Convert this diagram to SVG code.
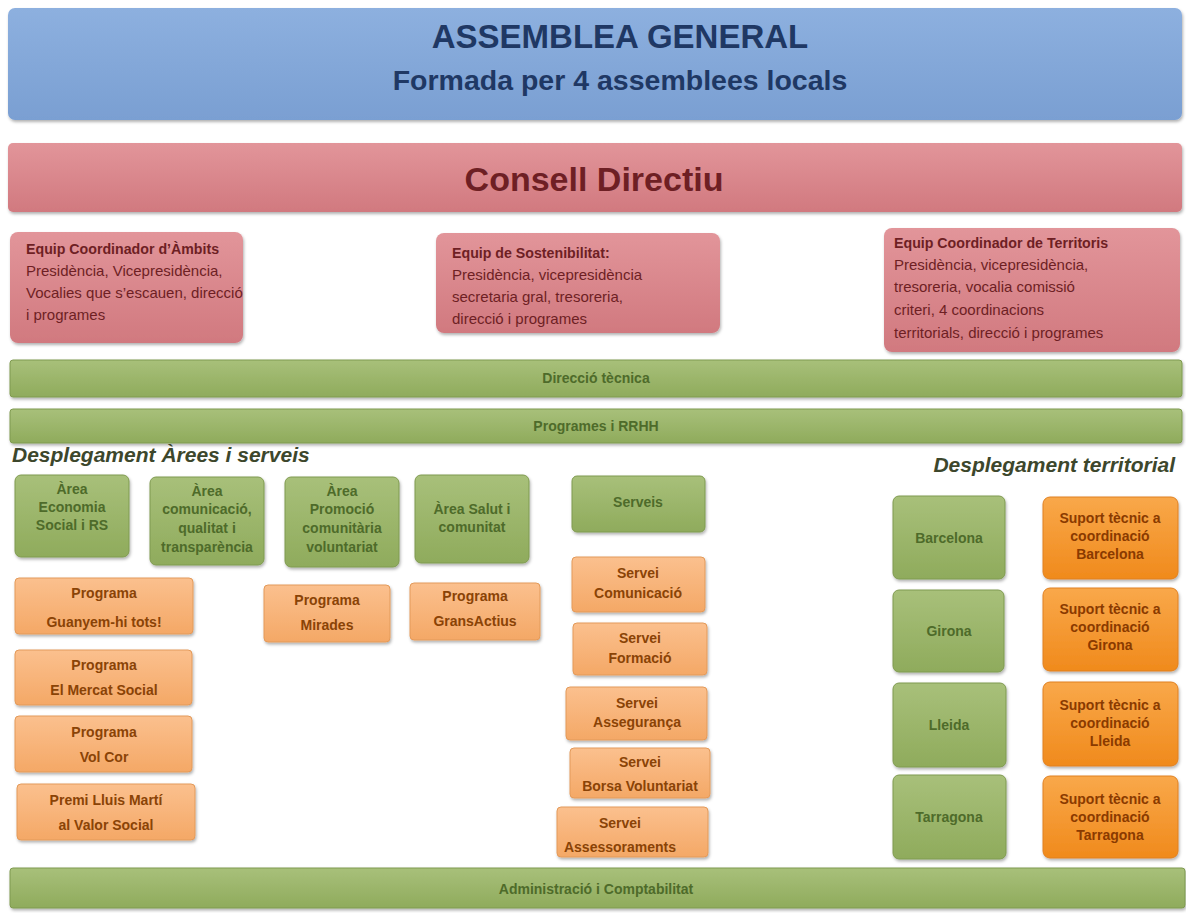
<svg xmlns="http://www.w3.org/2000/svg" width="1186" height="913" viewBox="0 0 1186 913">
<defs>
<linearGradient id="gBlue" x1="0" y1="0" x2="0" y2="1"><stop offset="0" stop-color="#8db0df"/><stop offset="1" stop-color="#7a9fd2"/></linearGradient>
<linearGradient id="gRed" x1="0" y1="0" x2="0" y2="1"><stop offset="0" stop-color="#e2959a"/><stop offset="1" stop-color="#d1797f"/></linearGradient>
<linearGradient id="gGreen" x1="0" y1="0" x2="0" y2="1"><stop offset="0" stop-color="#a8c07a"/><stop offset="1" stop-color="#8fab5c"/></linearGradient>
<linearGradient id="gOrange" x1="0" y1="0" x2="0" y2="1"><stop offset="0" stop-color="#fbc08e"/><stop offset="1" stop-color="#f4a866"/></linearGradient>
<linearGradient id="gOrange2" x1="0" y1="0" x2="0" y2="1"><stop offset="0" stop-color="#f9a84a"/><stop offset="1" stop-color="#f08a1c"/></linearGradient>
<filter id="sh" x="-10%" y="-10%" width="125%" height="130%"><feDropShadow dx="1" dy="2" stdDeviation="1.5" flood-color="#000" flood-opacity="0.3"/></filter>
</defs>
<style>
.box{filter:url(#sh)}
.blue{fill:url(#gBlue)}
.red{fill:url(#gRed)}
.green{fill:url(#gGreen);stroke:#7f9a50;stroke-width:1}
.or{fill:url(#gOrange);stroke:#e39a5a;stroke-width:1}
.or2{fill:url(#gOrange2);stroke:#e08020;stroke-width:1}
text{font-family:"Liberation Sans",Arial,sans-serif}
.h1{font-size:33px;font-weight:bold;fill:#1f3864;text-anchor:middle}
.h2{font-size:28.5px;font-weight:bold;fill:#1f3864;text-anchor:middle}
.cd{font-size:34px;font-weight:bold;fill:#6e1f24;text-anchor:middle}
.rt{font-size:15px;fill:#6e1f24}
.rb{font-weight:bold;font-size:14.2px}
.gt{font-size:14px;font-weight:bold;fill:#4e6b2a;text-anchor:middle}
.ot{font-size:14px;font-weight:bold;fill:#8a4306;text-anchor:middle}
.ot2{font-size:14px;font-weight:bold;fill:#8a3a00;text-anchor:middle}
.sec{font-size:21px;font-weight:bold;font-style:italic;fill:#3d472c}
</style>
<rect width="1186" height="913" fill="#ffffff"/>
<g id="connectors"/>

<g id="assemblea"><rect class="box blue" x="8" y="8" width="1174" height="112" rx="7"/>
<text class="h1" x="620" y="48">ASSEMBLEA GENERAL</text>
<text class="h2" x="620" y="90">Formada per 4 assemblees locals</text></g>

<g id="consell"><rect class="box red" x="8" y="143" width="1174" height="69" rx="5"/>
<text class="cd" x="594" y="191">Consell Directiu</text></g>

<g id="equip-ambits"><rect class="box red" x="10" y="232" width="233" height="111" rx="8"/>
<text class="rt" x="26"><tspan x="26" y="254" class="rb">Equip Coordinador d’Àmbits</tspan><tspan x="26" y="276">Presidència, Vicepresidència,</tspan><tspan x="26" y="298">Vocalies que s’escauen, direcció</tspan><tspan x="26" y="320">i programes</tspan></text></g>

<g id="equip-sostenibilitat"><rect class="box red" x="436" y="233" width="284" height="100" rx="8"/>
<text class="rt" x="452"><tspan x="452" y="258" class="rb">Equip de Sostenibilitat:</tspan><tspan x="452" y="280">Presidència, vicepresidència</tspan><tspan x="452" y="302">secretaria gral, tresoreria,</tspan><tspan x="452" y="324">direcció i programes</tspan></text></g>

<g id="equip-territoris"><rect class="box red" x="884" y="228" width="296" height="124" rx="8"/>
<text class="rt" x="894"><tspan x="894" y="248" class="rb">Equip Coordinador de Territoris</tspan><tspan x="894" y="270">Presidència, vicepresidència,</tspan><tspan x="894" y="292">tresoreria, vocalia comissió</tspan><tspan x="894" y="315">criteri, 4 coordinacions</tspan><tspan x="894" y="338">territorials, direcció i programes</tspan></text></g>

<g id="direccio"><rect class="box green" x="10" y="360" width="1172" height="37" rx="3"/>
<text class="gt" x="596" y="383">Direcció tècnica</text></g>

<g id="programes-rrhh"><rect class="box green" x="10" y="409" width="1172" height="34" rx="3"/>
<text class="gt" x="596" y="431">Programes i RRHH</text></g>

<text class="sec" x="12" y="462">Desplegament Àrees i serveis</text>
<text class="sec" x="1175" y="472" text-anchor="end">Desplegament territorial</text>

<g id="area-economia"><rect class="box green" x="15" y="475" width="114" height="82" rx="6"/>
<text class="gt"><tspan x="72" y="494">Àrea</tspan><tspan x="72" y="512">Economia</tspan><tspan x="72" y="530">Social i RS</tspan></text></g>

<g id="area-comunicacio"><rect class="box green" x="150" y="477" width="114" height="88" rx="6"/>
<text class="gt"><tspan x="207" y="496">Àrea</tspan><tspan x="207" y="514">comunicació,</tspan><tspan x="207" y="533">qualitat i</tspan><tspan x="207" y="552">transparència</tspan></text></g>

<g id="area-promocio"><rect class="box green" x="285" y="477" width="114" height="90" rx="6"/>
<text class="gt"><tspan x="342" y="496">Àrea</tspan><tspan x="342" y="514">Promoció</tspan><tspan x="342" y="533">comunitària</tspan><tspan x="342" y="552">voluntariat</tspan></text></g>

<g id="area-salut"><rect class="box green" x="415" y="475" width="114" height="88" rx="6"/>
<text class="gt"><tspan x="472" y="514">Àrea Salut i</tspan><tspan x="472" y="532">comunitat</tspan></text></g>

<g id="serveis"><rect class="box green" x="572" y="476" width="133" height="56" rx="5"/>
<text class="gt" x="638" y="507">Serveis</text></g>

<g id="prog-guanyem"><rect class="box or" x="15" y="578" width="178" height="56" rx="4"/>
<text class="ot"><tspan x="104" y="598">Programa</tspan><tspan x="104" y="627">Guanyem-hi tots!</tspan></text></g>

<g id="prog-mercat"><rect class="box or" x="15" y="650" width="177" height="55" rx="4"/>
<text class="ot"><tspan x="104" y="670">Programa</tspan><tspan x="104" y="695">El Mercat Social</tspan></text></g>

<g id="prog-volcor"><rect class="box or" x="15" y="716" width="177" height="56" rx="4"/>
<text class="ot"><tspan x="104" y="737">Programa</tspan><tspan x="104" y="762">Vol Cor</tspan></text></g>

<g id="premi"><rect class="box or" x="17" y="784" width="178" height="56" rx="4"/>
<text class="ot"><tspan x="106" y="805">Premi Lluis Martí</tspan><tspan x="106" y="830">al Valor Social</tspan></text></g>

<g id="prog-mirades"><rect class="box or" x="264" y="585" width="126" height="57" rx="4"/>
<text class="ot"><tspan x="327" y="605">Programa</tspan><tspan x="327" y="630">Mirades</tspan></text></g>

<g id="prog-gransactius"><rect class="box or" x="410" y="583" width="130" height="57" rx="4"/>
<text class="ot"><tspan x="475" y="601">Programa</tspan><tspan x="475" y="626">GransActius</tspan></text></g>

<g id="servei-comunicacio"><rect class="box or" x="572" y="557" width="133" height="55" rx="4"/>
<text class="ot"><tspan x="638" y="578">Servei</tspan><tspan x="638" y="598">Comunicació</tspan></text></g>

<g id="servei-formacio"><rect class="box or" x="573" y="623" width="134" height="52" rx="4"/>
<text class="ot"><tspan x="640" y="643">Servei</tspan><tspan x="640" y="663">Formació</tspan></text></g>

<g id="servei-asseguranca"><rect class="box or" x="566" y="687" width="141" height="53" rx="4"/>
<text class="ot"><tspan x="637" y="708">Servei</tspan><tspan x="637" y="727">Assegurança</tspan></text></g>

<g id="servei-borsa"><rect class="box or" x="570" y="748" width="140" height="50" rx="4"/>
<text class="ot"><tspan x="640" y="767">Servei</tspan><tspan x="640" y="791">Borsa Voluntariat</tspan></text></g>

<g id="servei-assessoraments"><rect class="box or" x="557" y="807" width="151" height="50" rx="4"/>
<text class="ot"><tspan x="620" y="828">Servei</tspan><tspan x="620" y="852">Assessoraments</tspan></text></g>

<g id="barcelona"><rect class="box green" x="893" y="496" width="112" height="83" rx="6"/>
<text class="gt" x="949" y="543">Barcelona</text></g>
<g id="girona"><rect class="box green" x="893" y="590" width="111" height="82" rx="6"/>
<text class="gt" x="949" y="636">Girona</text></g>
<g id="lleida"><rect class="box green" x="893" y="683" width="113" height="84" rx="6"/>
<text class="gt" x="949" y="730">Lleida</text></g>
<g id="tarragona"><rect class="box green" x="893" y="775" width="113" height="84" rx="6"/>
<text class="gt" x="949" y="822">Tarragona</text></g>

<g id="suport-barcelona"><rect class="box or2" x="1043" y="497" width="135" height="82" rx="7"/>
<text class="ot2"><tspan x="1110" y="523">Suport tècnic a</tspan><tspan x="1110" y="541">coordinació</tspan><tspan x="1110" y="559">Barcelona</tspan></text></g>
<g id="suport-girona"><rect class="box or2" x="1043" y="588" width="135" height="83" rx="7"/>
<text class="ot2"><tspan x="1110" y="614">Suport tècnic a</tspan><tspan x="1110" y="632">coordinació</tspan><tspan x="1110" y="650">Girona</tspan></text></g>
<g id="suport-lleida"><rect class="box or2" x="1043" y="682" width="135" height="84" rx="7"/>
<text class="ot2"><tspan x="1110" y="710">Suport tècnic a</tspan><tspan x="1110" y="728">coordinació</tspan><tspan x="1110" y="746">Lleida</tspan></text></g>
<g id="suport-tarragona"><rect class="box or2" x="1043" y="776" width="135" height="82" rx="7"/>
<text class="ot2"><tspan x="1110" y="804">Suport tècnic a</tspan><tspan x="1110" y="822">coordinació</tspan><tspan x="1110" y="840">Tarragona</tspan></text></g>

<g id="administracio"><rect class="box green" x="10" y="868" width="1175" height="40" rx="3"/>
<text class="gt" x="596" y="894">Administració i Comptabilitat</text></g>
</svg>
